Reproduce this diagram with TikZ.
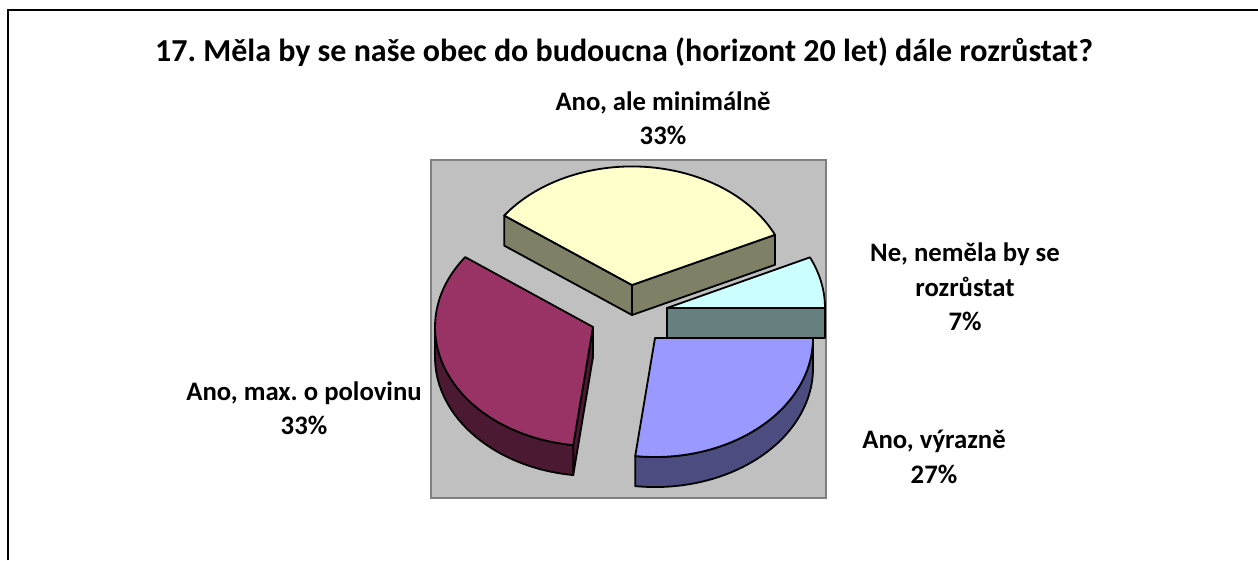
\documentclass[tikz,border=0pt]{standalone}
\usepackage{fontspec}
\setmainfont{Carlito}
\frenchspacing
\definecolor{plotgray}{HTML}{C0C0C0}
\definecolor{plotedge}{HTML}{808080}
\definecolor{yeltop}{HTML}{FFFFCC}
\definecolor{yelside}{HTML}{808066}
\definecolor{cyantop}{HTML}{CCFFFF}
\definecolor{cyanside}{HTML}{668080}
\definecolor{bluetop}{HTML}{9999FF}
\definecolor{blueside}{HTML}{4C4C80}
\definecolor{magtop}{HTML}{993366}
\definecolor{magside}{HTML}{4C1933}
\begin{document}
\begin{tikzpicture}[x=1pt,y=-1pt,
    slice/.style={draw=black,line width=1.8pt,line join=round},
    lbl/.style={font=\fontsize{26.7}{34.5}\selectfont\bfseries,align=center}]
        \useasboundingbox (0,0) rectangle (1258,560);
        \fill[white] (0,0) rectangle (1258,560);
        \draw[line width=2pt] (8,560) -- (8,9.5) -- (1258,9.5);

        \node (title) at (624,61) [anchor=base,font=\fontsize{32}{38}\selectfont\bfseries]
            {17. Měla by se naše obec do budoucna (horizont 20 let) dále rozrůstat?};

        % plot area
        \draw[fill=plotgray,draw=plotedge,line width=2pt] (431,160) rectangle (826,498);

        % Ano, ale minimálně
        \draw[slice,fill=yelside] (504.2,215.6) -- (632,285) -- (632,315) -- (504.2,245.6) -- cycle;
        \draw[slice,fill=yelside] (632,285) -- (775,234.8) -- (775,264.8) -- (632,315) -- cycle;
        \draw[slice,fill=yeltop] (632,285) -- (775,234.8)
            arc[start angle=-25.2,end angle=-144,x radius=158,y radius=119] -- cycle;

        % Ne, neměla by se rozrůstat
        \draw[slice,fill=cyanside] (667,308) -- (825,308) -- (825,338) -- (667,338) -- cycle;
        \draw[slice,fill=cyantop] (667,308) -- (825,308)
            arc[start angle=0,end angle=-25.2,x radius=158,y radius=119] -- cycle;

        % Ano, výrazně
        \draw[slice,fill=blueside] (635.2,456.1)
            arc[start angle=97.2,end angle=0,x radius=158,y radius=119] -- ++(0,30)
            arc[start angle=0,end angle=97.2,x radius=158,y radius=119] -- cycle;
        \draw[slice,fill=bluetop] (655,338) -- (813,338)
            arc[start angle=0,end angle=97.2,x radius=158,y radius=119] -- cycle;

        % Ano, max. o polovinu
        \draw[slice,fill=magside] (593,327) -- (573.2,445.1) -- (573.2,475.1) -- (593,357) -- cycle;
        \draw[slice,fill=magside] (435,327)
            arc[start angle=180,end angle=97.2,x radius=158,y radius=119] -- ++(0,30)
            arc[start angle=97.2,end angle=180,x radius=158,y radius=119] -- cycle;
        \draw[slice,fill=magtop] (593,327) -- (465.2,257.1)
            arc[start angle=-144,end angle=-262.8,x radius=158,y radius=119] -- cycle;

        % labels
        \node (minimal) at (663,118) [lbl] {Ano, ale minimálně\\33\%};
        \node (never) at (965,287) [lbl] {Ne, neměla by se\\rozrůstat\\7\%};
        \node (strong) at (934,457) [lbl] {Ano, výrazně\\27\%};
        \node (half) at (304,408) [lbl] {Ano, max. o polovinu\\33\%};
    \end{tikzpicture}
\end{document}
